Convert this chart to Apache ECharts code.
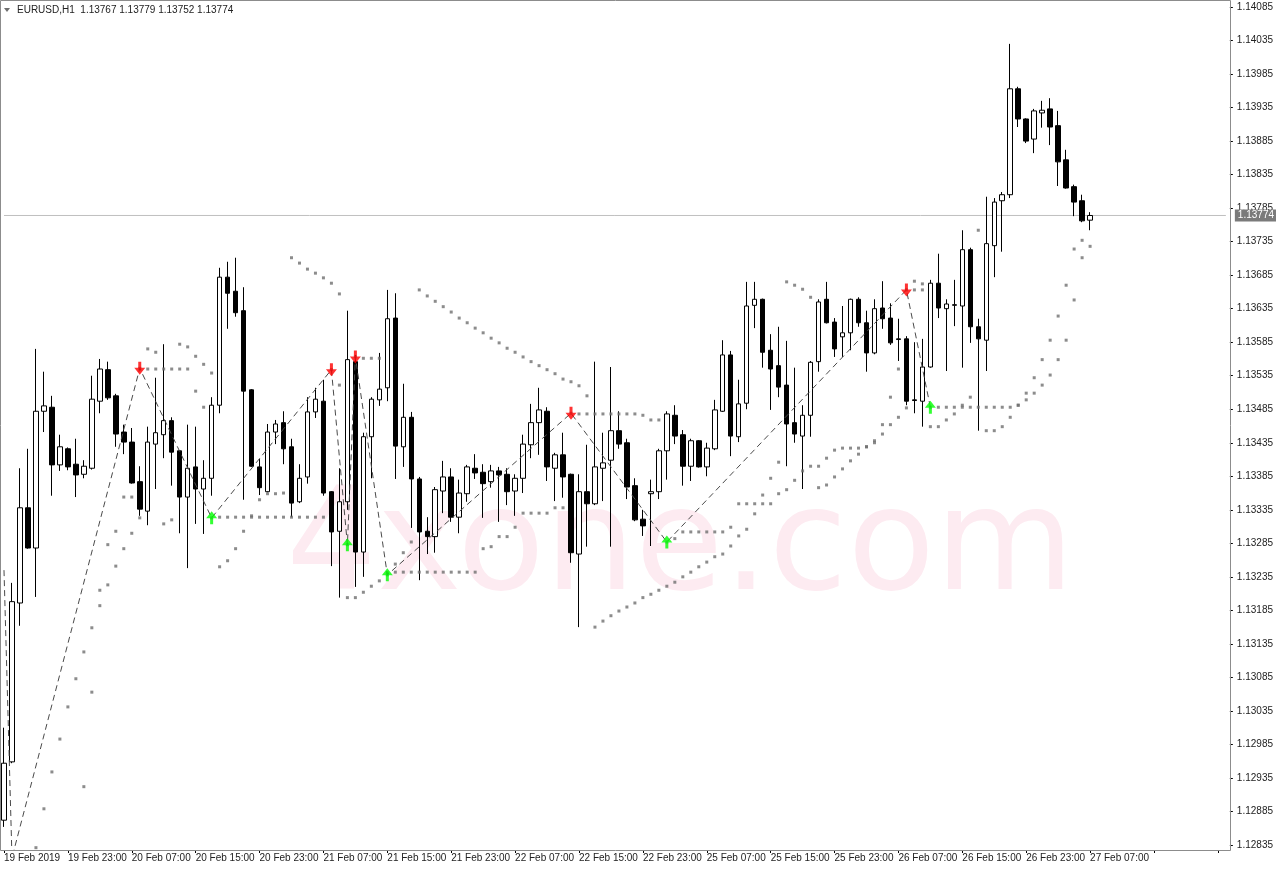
<!DOCTYPE html>
<html><head><meta charset="utf-8">
<script src="https://cdn.jsdelivr.net/npm/echarts@6/dist/echarts.min.js"></script>
<style>html,body{margin:0;padding:0;background:#fff}#c{width:1276px;height:870px}</style>
</head><body><div id="c"></div><script>
// ---- time axis labels (every 8 H1 bars) ----
const tickLabels = ['19 Feb 2019','19 Feb 23:00','20 Feb 07:00','20 Feb 15:00','20 Feb 23:00','21 Feb 07:00','21 Feb 15:00','21 Feb 23:00','22 Feb 07:00','22 Feb 15:00','22 Feb 23:00','25 Feb 07:00','25 Feb 15:00','25 Feb 23:00','26 Feb 07:00','26 Feb 15:00','26 Feb 23:00','27 Feb 07:00'];
// ---- price scale labels ----
const priceTicks = [1.12835,1.12885,1.12935,1.12985,1.13035,1.13085,1.13135,1.13185,1.13235,1.13285,1.13335,1.13385,1.13435,1.13485,1.13535,1.13585,1.13635,1.13685,1.13735,1.13785,1.13835,1.13885,1.13935,1.13985,1.14035,1.14085];
// ---- EURUSD H1 OHLC ----
const opens = [1.12872,1.12959,1.13196,1.13338,1.13278,1.13482,1.13488,1.13402,1.13426,1.13403,
1.13388,1.13397,1.13497,1.13544,1.13505,1.13451,1.13436,1.13377,1.13333,1.13433,
1.13447,1.13468,1.13423,1.13354,1.13399,1.13366,1.13382,1.13491,1.13682,1.13661,
1.13632,1.13514,1.13399,1.13362,1.13451,1.13465,1.13429,1.13347,1.13384,1.13481,
1.13497,1.13362,1.13303,1.13347,1.13556,1.13272,1.13444,1.13499,1.13517,1.13621,
1.13429,1.13473,1.13381,1.13303,1.13295,1.13363,1.13384,1.13324,1.13359,1.13397,
1.13391,1.13377,1.13393,1.13388,1.13363,1.13382,1.13432,1.13465,1.13482,1.13397,
1.13417,1.13388,1.13269,1.13362,1.13344,1.13397,1.13409,1.13453,1.13435,1.13371,
1.13321,1.13359,1.13362,1.13423,1.13476,1.13447,1.13400,1.13438,1.13399,1.13426,
1.13482,1.13566,1.13444,1.13494,1.13640,1.13649,1.13573,1.13550,1.13521,1.13465,
1.13445,1.13476,1.13556,1.13649,1.13615,1.13593,1.13599,1.13649,1.13614,1.13569,
1.13636,1.13621,1.13590,1.13590,1.13499,1.13497,1.13548,1.13673,1.13635,1.13640,
1.13639,1.13723,1.13608,1.13588,1.13729,1.13796,1.13805,1.13963,1.13918,1.13888,
1.13927,1.13933,1.13908,1.13857,1.13817,1.13796,1.13767];
const highs = [1.13010,1.13226,1.13397,1.13426,1.13575,1.13541,1.13505,1.13447,1.13428,1.13441,
1.13409,1.13535,1.13560,1.13556,1.13508,1.13462,1.13457,1.13400,1.13459,1.13532,
1.13582,1.13473,1.13424,1.13462,1.13459,1.13409,1.13503,1.13696,1.13705,1.13711,
1.13667,1.13515,1.13411,1.13463,1.13469,1.13482,1.13441,1.13403,1.13503,1.13517,
1.13529,1.13363,1.13397,1.13632,1.13566,1.13450,1.13503,1.13569,1.13663,1.13658,
1.13523,1.13481,1.13384,1.13324,1.13369,1.13408,1.13397,1.13380,1.13402,1.13418,
1.13403,1.13402,1.13399,1.13397,1.13388,1.13447,1.13493,1.13517,1.13488,1.13420,
1.13450,1.13389,1.13388,1.13432,1.13556,1.13450,1.13548,1.13482,1.13441,1.13382,
1.13335,1.13380,1.13426,1.13482,1.13491,1.13454,1.13441,1.13439,1.13435,1.13499,
1.13588,1.13572,1.13529,1.13675,1.13675,1.13650,1.13597,1.13608,1.13587,1.13547,
1.13491,1.13557,1.13649,1.13675,1.13621,1.13639,1.13650,1.13652,1.13632,1.13649,
1.13676,1.13643,1.13620,1.13594,1.13585,1.13590,1.13678,1.13717,1.13649,1.13678,
1.13752,1.13726,1.13620,1.13802,1.13800,1.13809,1.14030,1.13966,1.13919,1.13933,
1.13945,1.13949,1.13930,1.13872,1.13820,1.13805,1.13779];
const lows = [1.12862,1.12957,1.13162,1.13277,1.13205,1.13451,1.13356,1.13393,1.13394,1.13354,
1.13382,1.13395,1.13479,1.13499,1.13429,1.13418,1.13374,1.13326,1.13312,1.13366,
1.13412,1.13371,1.13300,1.13248,1.13314,1.13299,1.13356,1.13479,1.13605,1.13623,
1.13350,1.13399,1.13357,1.13361,1.13433,1.13403,1.13324,1.13345,1.13374,1.13472,
1.13356,1.13251,1.13204,1.13335,1.13220,1.13235,1.13382,1.13490,1.13497,1.13381,
1.13399,1.13308,1.13230,1.13269,1.13271,1.13330,1.13317,1.13300,1.13347,1.13381,
1.13323,1.13368,1.13317,1.13342,1.13326,1.13360,1.13412,1.13417,1.13378,1.13348,
1.13353,1.13256,1.13160,1.13280,1.13342,1.13348,1.13280,1.13426,1.13351,1.13318,
1.13296,1.13281,1.13351,1.13380,1.13433,1.13371,1.13378,1.13398,1.13385,1.13424,
1.13481,1.13415,1.13436,1.13485,1.13606,1.13547,1.13484,1.13503,1.13400,1.13435,
1.13366,1.13444,1.13541,1.13613,1.13563,1.13563,1.13573,1.13608,1.13541,1.13567,
1.13605,1.13581,1.13557,1.13491,1.13479,1.13459,1.13547,1.13621,1.13542,1.13609,
1.13547,1.13584,1.13453,1.13542,1.13682,1.13720,1.13800,1.13906,1.13882,1.13867,
1.13905,1.13879,1.13818,1.13814,1.13773,1.13764,1.13752];
const closes = [1.12957,1.13198,1.13338,1.13278,1.13482,1.13490,1.13402,1.13429,1.13399,1.13387,
1.13400,1.13500,1.13545,1.13502,1.13448,1.13436,1.13375,1.13336,1.13436,1.13450,
1.13468,1.13421,1.13354,1.13397,1.13366,1.13382,1.13491,1.13682,1.13658,1.13629,
1.13512,1.13400,1.13368,1.13451,1.13463,1.13426,1.13345,1.13382,1.13481,1.13500,
1.13360,1.13302,1.13347,1.13559,1.13272,1.13444,1.13500,1.13515,1.13620,1.13430,
1.13473,1.13381,1.13302,1.13295,1.13365,1.13384,1.13324,1.13360,1.13399,1.13390,
1.13374,1.13393,1.13387,1.13362,1.13382,1.13433,1.13465,1.13484,1.13399,1.13417,
1.13384,1.13271,1.13362,1.13344,1.13399,1.13405,1.13453,1.13433,1.13369,1.13320,
1.13311,1.13362,1.13423,1.13478,1.13445,1.13400,1.13438,1.13399,1.13427,1.13484,
1.13566,1.13445,1.13493,1.13639,1.13649,1.13570,1.13545,1.13518,1.13463,1.13448,
1.13476,1.13555,1.13645,1.13614,1.13575,1.13599,1.13649,1.13614,1.13569,1.13635,
1.13620,1.13584,1.13589,1.13497,1.13498,1.13548,1.13673,1.13636,1.13642,1.13641,
1.13723,1.13608,1.13590,1.13732,1.13794,1.13805,1.13963,1.13918,1.13885,1.13930,
1.13931,1.13906,1.13854,1.13815,1.13794,1.13766,1.13774];
// ---- two parabolic SAR dot trails (null = off screen) ----
const sarFast = [null,null,null,null,1.12831,1.12889,1.12944,1.12993,1.13041,1.13083,
1.13123,1.13159,1.13192,1.13223,1.13251,1.13277,1.13300,1.13323,1.13575,1.13570,
1.13314,1.13320,1.13582,1.13578,1.13564,1.13552,1.13539,1.13250,1.13259,1.13277,
1.13303,1.13326,1.13350,1.13359,1.13359,1.13360,1.13711,1.13703,1.13694,1.13688,
1.13681,1.13673,1.13657,1.13204,1.13204,1.13212,1.13221,1.13229,1.13241,1.13254,
1.13271,1.13287,1.13663,1.13654,1.13646,1.13638,1.13630,1.13621,1.13614,1.13606,
1.13599,1.13591,1.13584,1.13576,1.13570,1.13563,1.13556,1.13550,1.13544,1.13538,
1.13530,1.13526,1.13520,1.13505,1.13160,1.13169,1.13177,1.13184,1.13190,1.13196,
1.13204,1.13209,1.13215,1.13221,1.13227,1.13235,1.13242,1.13250,1.13257,1.13265,
1.13269,1.13281,1.13296,1.13306,1.13329,1.13357,1.13382,1.13406,1.13675,1.13670,
1.13664,1.13652,1.13368,1.13372,1.13384,1.13396,1.13408,1.13418,1.13429,1.13438,
1.13448,1.13462,1.13473,1.13487,1.13676,1.13672,1.13459,1.13459,1.13469,1.13478,
1.13491,1.13503,1.13752,1.13453,1.13453,1.13459,1.13473,1.13491,1.13509,1.13532,
1.13559,1.13588,1.13624,1.13670,1.13724,1.13737,null];
const sarSlow = [null,null,null,null,null,null,null,null,null,null,
1.12922,1.13063,1.13215,1.13283,1.13303,1.13354,1.13354,1.13546,1.13545,1.13545,
1.13545,1.13545,1.13545,1.13545,1.13512,1.13488,1.13323,1.13324,1.13324,1.13324,
1.13324,1.13324,1.13324,1.13324,1.13324,1.13324,1.13324,1.13324,1.13324,1.13324,
1.13324,1.13544,1.13521,1.13283,1.13563,1.13561,1.13561,1.13561,1.13238,1.13242,
1.13242,1.13242,1.13242,1.13242,1.13242,1.13242,1.13242,1.13242,1.13242,1.13242,
1.13277,1.13280,1.13295,1.13295,1.13309,1.13330,1.13330,1.13330,1.13330,1.13338,
1.13338,1.13479,1.13478,1.13478,1.13478,1.13478,1.13478,1.13478,1.13478,1.13478,
1.13476,1.13469,1.13469,1.13287,1.13292,1.13302,1.13302,1.13302,1.13302,1.13302,
1.13302,1.13309,1.13344,1.13344,1.13344,1.13344,1.13344,1.13359,1.13365,1.13379,
1.13393,1.13400,1.13400,1.13412,1.13424,1.13427,1.13427,1.13427,1.13429,1.13435,
1.13462,1.13503,1.13545,1.13663,1.13663,1.13663,1.13488,1.13488,1.13488,1.13488,
1.13488,1.13488,1.13488,1.13488,1.13488,1.13488,1.13488,1.13491,1.13499,1.13509,
1.13521,1.13536,1.13559,1.13588,1.13648,1.13711,1.13728];
// ---- signal arrows [bar, price] and zigzag through them ----
const sellSignals = [[17,1.13546],[41,1.13544],[44,1.13563],[71,1.13479],[113,1.13663]];
const buySignals  = [[26,1.13323],[43,1.13283],[48,1.13238],[83,1.13287],[116,1.13488]];
const zigzag = [[0,1.13245],[1,1.12816],[17,1.13546],[26,1.13323],[41,1.13544],[43,1.13283],[44,1.13563],[48,1.13238],[71,1.13479],[83,1.13287],[113,1.13663],[116,1.13488]];
const lastPrice = 1.13774;
const headerText = 'EURUSD,H1  1.13767 1.13779 1.13752 1.13774';

const SLOTS = 154;
const cats = Array.from({length: SLOTS}, (_, i) => String(i));
const candles = opens.map((o, i) => [o, closes[i], lows[i], highs[i]]);
const toPts = arr => arr.map((v, i) => v == null ? null : [i, v]).filter(Boolean);
const FONT = '"Liberation Sans", Arial, sans-serif';

const chart = echarts.init(document.getElementById('c'), null, {renderer: 'canvas'});
chart.setOption({
  animation: false,
  backgroundColor: '#ffffff',
  grid: {left: -1, right: 45, top: 1, bottom: 20},
  xAxis: {
    type: 'category', data: cats, boundaryGap: true,
    axisLine: {show: false},
    axisTick: {show: true, interval: 7, alignWithLabel: true, length: 3, lineStyle: {color: '#000'}},
    axisLabel: {interval: 7, align: 'left', margin: 3, fontSize: 10, fontFamily: FONT, color: '#222',
      formatter: (v, i) => tickLabels[i / 8] || ''},
    splitLine: {show: false}
  },
  yAxis: {
    type: 'value', position: 'right', min: 1.1282754, max: 1.1409395,
    axisLine: {show: false}, splitLine: {show: false},
    axisTick: {show: true, customValues: priceTicks, length: 3, lineStyle: {color: '#000'}},
    axisLabel: {customValues: priceTicks, margin: 7, align: 'left', fontSize: 10, fontFamily: FONT, color: '#222',
      formatter: v => v.toFixed(5)}
  },
  graphic: [
    {type: 'text', x: 286, y: 552, z: 0, silent: true,
      style: {text: '4xone.com', font: '143px "DejaVu Sans"', fill: '#fdebf1', align: 'left', verticalAlign: 'middle'}},
    {type: 'rect', z: 100, silent: true, shape: {x: 0.5, y: 0.5, width: 1230, height: 850},
      style: {fill: null, stroke: '#8c8c8c', lineWidth: 1}},
    {type: 'polygon', z: 100, silent: true, shape: {points: [[4, 8], [10, 8], [7, 12]]}, style: {fill: '#6e6e6e'}},
    {type: 'text', x: 17, y: 10, z: 100, silent: true,
      style: {text: headerText, font: '10px ' + FONT, fill: '#222', align: 'left', verticalAlign: 'middle'}}
  ],
  series: [
    // current bid line across the whole plot, label on the price scale
    {type: 'line', data: [[0, lastPrice], [SLOTS - 1, lastPrice]], symbol: 'none', z: 1, silent: true,
      lineStyle: {color: '#c0c0c0', width: 1},
      endLabel: {show: true, distance: 9, formatter: () => lastPrice.toFixed(5),
        backgroundColor: '#7a7a7a', color: '#ffffff', fontSize: 10, fontFamily: FONT, padding: [1, 3, 1, 3]}},
    {type: 'candlestick', data: candles, barWidth: 5, z: 3,
      itemStyle: {color: '#ffffff', color0: '#000000', borderColor: '#000000', borderColor0: '#000000', borderWidth: 1}},
    {type: 'scatter', data: toPts(sarFast), symbol: 'rect', symbolSize: 3, z: 4,
      itemStyle: {color: '#6f6f6f'}},
    {type: 'scatter', data: toPts(sarSlow), symbol: 'rect', symbolSize: 3, z: 4,
      itemStyle: {color: '#6f6f6f'}},
    {type: 'line', data: zigzag, symbol: 'none', z: 5,
      lineStyle: {color: '#4a4a4a', width: 1, type: [6, 4]}},
    {type: 'scatter', data: sellSignals, z: 6, symbolSize: [11, 13],
      symbol: 'path://M4,0 L7,0 L7,6 L11,6 L5.5,13 L0,6 L4,6 Z', itemStyle: {color: '#ff0000'}},
    {type: 'scatter', data: buySignals, z: 6, symbolSize: [11, 13],
      symbol: 'path://M4,13 L7,13 L7,7 L11,7 L5.5,0 L0,7 L4,7 Z', itemStyle: {color: '#00ff00'}}
  ]
});
</script></body></html>
